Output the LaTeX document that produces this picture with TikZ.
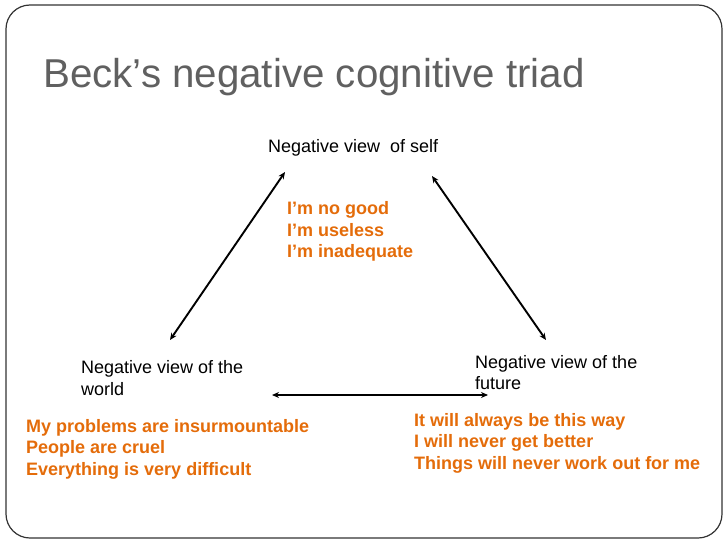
\documentclass[tikz,border=0pt]{standalone}
\usepackage{fontspec}
\setmainfont{Liberation Sans}
\usetikzlibrary{arrows.meta}
\definecolor{titlegray}{RGB}{96,96,96}
\definecolor{thoughtorange}{RGB}{228,108,10}
\tikzset{
    view/.style={anchor=west, inner sep=0pt, align=left, font=\fontsize{18}{21.6}\selectfont},
    thought/.style={view, text=thoughtorange, font=\fontsize{18}{21.6}\selectfont\bfseries},
    link/.style={{Stealth[length=7pt,width=6pt]}-{Stealth[length=7pt,width=6pt]}, line width=1.9pt}
}
\begin{document}
\begin{tikzpicture}[x=1pt,y=-1pt]
    \useasboundingbox (0,0) rectangle (728,546);
    \draw[black!80, line width=1.2pt, rounded corners=24pt] (6,5) rectangle (722,538);

    \node[anchor=base west, inner sep=0pt, text=titlegray, font=\fontsize{40.3}{48}\selectfont] (title) at (43,87) {Beck’s negative cognitive triad};

    \coordinate (sl) at (285,172); \coordinate (sr) at (432,176);
    \coordinate (wt) at (170,340); \coordinate (ft) at (546,340);
    \coordinate (wr) at (272,395); \coordinate (fl) at (488,395);

    \draw[link] (sl)--(wt); \draw[link] (sr)--(ft); \draw[link] (wr)--(fl);

    \node[view] (self) at (268,148) {Negative view\ \ of self};
    \node[view] (world) at (81,378) {Negative view of the\\world};
    \node[view] (future) at (475,372.5) {Negative view of the\\future};

    \node[thought] (selfsay) at (287,231.5) {I’m no good\\I’m useless\\I’m inadequate};
    \node[thought] (worldsay) at (26,449) {My problems are insurmountable\\People are cruel\\Everything is very difficult};
    \node[thought] (futuresay) at (414,443) {It will always be this way\\I will never get better\\Things will never work out for me};
\end{tikzpicture}
\end{document}
